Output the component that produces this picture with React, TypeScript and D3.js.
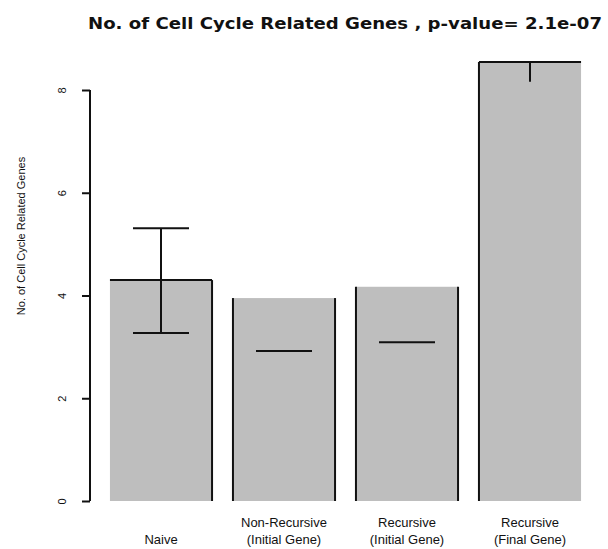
import React, { useEffect, useRef } from "react";
import * as d3 from "d3";

const categories = ["Naive", "Non-Recursive\n(Initial Gene)", "Recursive\n(Initial Gene)", "Recursive\n(Final Gene)"];
const counts = [4.3, 3.95, 4.17, 8.545];
const errLow = [3.27, 2.92, 3.09, 8.16];
const errHigh = [5.31, 2.92, 3.09, 8.6];
const yTicks = [0, 2, 4, 6, 8];

const width = 608;
const height = 549;
const font = "'Liberation Sans', Arial, Helvetica, sans-serif";

// which bar sides have a dark edge in the original render
const edges = [
  { left: false, right: true, top: true },
  { left: true, right: true, top: false },
  { left: true, right: true, top: false },
  { left: true, right: false, top: true },
];
const lowCap = [true, true, true, false];
const highCap = [true, false, false, false];

const drawChart = (el: SVGSVGElement) => {
  const svg = d3.select(el);
  svg.selectAll("*").remove();

  const x = d3.scaleBand<number>()
    .domain(d3.range(categories.length))
    .range([99.5, 591.5])
    .paddingInner(0.17)
    .paddingOuter(0.085);

  const y = d3.scaleLinear().domain([0, 8]).range([501, 90]);
  const plotTop = y(8.545);

  svg.append("defs").append("clipPath").attr("id", "plotclip")
    .append("rect").attr("x", 0).attr("y", plotTop - 1).attr("width", width).attr("height", 501 - plotTop + 1);

  const g = svg.append("g").attr("clip-path", "url(#plotclip)");

  g.selectAll("rect.bar")
    .data(counts)
    .join("rect")
      .attr("class", "bar")
      .attr("x", (d, i) => x(i)!)
      .attr("y", d => y(d))
      .attr("width", x.bandwidth())
      .attr("height", d => y(0) - y(d))
      .attr("fill", "#bebebe");

  const edgeLines = g.append("g").attr("stroke", "#111").attr("stroke-width", 2);
  counts.forEach((d, i) => {
    const x0 = x(i)!, x1 = x0 + x.bandwidth();
    if (edges[i].left) edgeLines.append("line").attr("x1", x0).attr("x2", x0).attr("y1", y(d)).attr("y2", y(0));
    if (edges[i].right) edgeLines.append("line").attr("x1", x1).attr("x2", x1).attr("y1", y(d)).attr("y2", y(0));
    if (edges[i].top) edgeLines.append("line").attr("x1", x0).attr("x2", x1).attr("y1", y(d)).attr("y2", y(d));
  });

  const capHalf = 28;
  const err = g.append("g").attr("stroke", "#111").attr("stroke-width", 2);
  counts.forEach((d, i) => {
    const cx = x(i)! + x.bandwidth() / 2;
    if (errHigh[i] > errLow[i]) {
      err.append("line").attr("x1", cx).attr("x2", cx).attr("y1", y(errLow[i])).attr("y2", y(errHigh[i]));
    }
    if (lowCap[i]) err.append("line").attr("x1", cx - capHalf).attr("x2", cx + capHalf).attr("y1", y(errLow[i])).attr("y2", y(errLow[i]));
    if (highCap[i]) err.append("line").attr("x1", cx - capHalf).attr("x2", cx + capHalf).attr("y1", y(errHigh[i])).attr("y2", y(errHigh[i]));
  });

  // y axis
  const axis = svg.append("g").attr("transform", "translate(90,0)")
    .call(d3.axisLeft(y).tickValues(yTicks).tickSize(8).tickFormat(d3.format("d")));
  axis.select(".domain").attr("stroke", "#111").attr("stroke-width", 2).attr("d", `M0,${y(8)}V${y(0)}`);
  axis.selectAll(".tick line").attr("stroke", "#111").attr("stroke-width", 2);
  axis.selectAll(".tick text")
    .attr("x", null).attr("dy", null)
    .attr("transform", "translate(-24,0) rotate(-90)")
    .attr("text-anchor", "middle")
    .attr("font-family", font)
    .attr("font-size", 11)
    .attr("fill", "#111");

  svg.append("text")
    .attr("transform", "translate(25,236) rotate(-90)")
    .attr("text-anchor", "middle")
    .attr("font-family", font)
    .attr("font-size", 11)
    .attr("fill", "#111")
    .text("No. of Cell Cycle Related Genes");

  // x labels
  const labels = svg.append("g")
    .attr("font-family", font)
    .attr("font-size", 13)
    .attr("fill", "#111")
    .attr("text-anchor", "middle");
  categories.forEach((c, i) => {
    const lines = c.split("\n");
    const cx = x(i)! + x.bandwidth() / 2;
    lines.forEach((l, j) => {
      labels.append("text")
        .attr("x", cx)
        .attr("y", 544 - (lines.length - 1 - j) * 17)
        .text(l);
    });
  });

  svg.append("text")
    .attr("x", 345)
    .attr("y", 29)
    .attr("text-anchor", "middle")
    .attr("font-family", "'DejaVu Sans', sans-serif")
    .attr("font-weight", "bold")
    .attr("font-size", 16)
    .attr("textLength", 514)
    .attr("lengthAdjust", "spacingAndGlyphs")
    .attr("fill", "#111")
    .text("No. of Cell Cycle Related Genes , p-value= 2.1e-07");
};

const App = () => {
  const ref = useRef<SVGSVGElement>(null);
  useEffect(() => {
    if (ref.current) drawChart(ref.current);
  }, []);
  return (
    <svg ref={ref} width={width} height={height}
      style={{ position: "absolute", left: 0, top: 0, background: "#fff" }} />
  );
};

export default App;
